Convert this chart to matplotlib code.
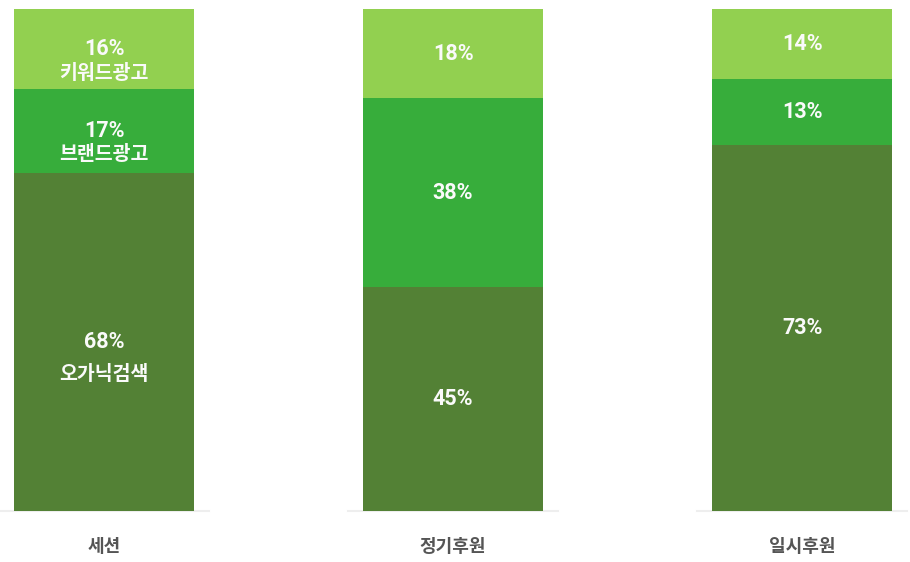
import numpy as np
import matplotlib
matplotlib.use('Agg')
import matplotlib.pyplot as plt

plt.rcParams['font.family'] = ['Noto Sans CJK KR', 'DejaVu Sans']

# data
categories = ['세션', '정기후원', '일시후원']
segment_names = ['오가닉검색', '브랜드광고', '키워드광고']  # bottom -> top
organic = [68, 45, 73]
brand = [17, 38, 13]
keyword = [16, 18, 14]
# only the first bar carries segment names
show_names = [True, False, False]

colors = ['#538135', '#37ad3b', '#92d050']

fig = plt.figure(figsize=(9.1, 5.62), dpi=100)
ax = fig.add_axes([0, 0.0907, 1, 0.8933])

x = np.arange(len(categories))
series = [organic, brand, keyword]
totals = np.sum(series, axis=0)
bar_w = 0.516

bottom = np.zeros(len(categories))
name_offsets = [-32, -24, -25]  # pixel gap from percent to name
for i, vals in enumerate(series):
    frac = np.array(vals) / totals
    ax.bar(x, frac, bottom=bottom, width=bar_w, color=colors[i], linewidth=0)
    for j in range(len(categories)):
        yc = bottom[j] + frac[j] / 2
        ax.text(x[j], yc, f'{vals[j]}%', ha='center', va='center',
                color='#fafafa', fontsize=15.5, fontweight='bold',
                family=['Roboto', 'Noto Sans CJK KR'])
        if show_names[j]:
            ax.annotate(segment_names[i], (x[j], yc), xytext=(0, name_offsets[i] * 0.72),
                        textcoords='offset points', ha='center', va='center',
                        color='#fafafa', fontsize=14, fontweight='bold')
    bottom += frac

# light baseline under each bar
for j in x:
    ax.plot([j - 0.3, j + 0.3], [0, 0], color='#eeeeee', lw=1.5, clip_on=False, zorder=0)

ax.set_xlim(-0.298, 2.309)
ax.set_ylim(0, 1)
for s in ax.spines.values():
    s.set_visible(False)
ax.set_yticks([])
ax.set_xticks(x)
ax.set_xticklabels(categories, fontsize=13, fontweight='bold', color='#555555')
ax.tick_params(axis='x', length=0, pad=19)

fig.savefig('out.png', dpi=100)
